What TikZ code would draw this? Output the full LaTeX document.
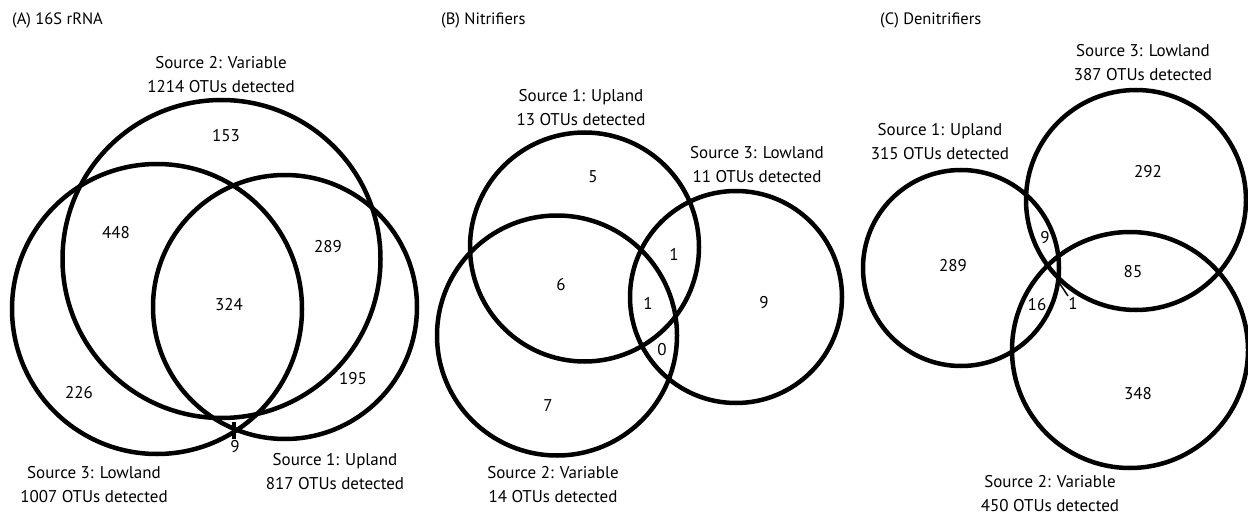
\documentclass[tikz,border=0pt]{standalone}
\usepackage{fontspec}
\setmainfont{PT Sans}
\begin{document}
\begin{tikzpicture}[x=1pt,y=-1pt,
  set/.style={draw=black,line width=4.5pt,circle,inner sep=0pt,outer sep=0pt,minimum size=#1},
  lbl/.style={font=\fontsize{17}{24}\selectfont,align=center,inner sep=0pt},
  num/.style={font=\fontsize{17}{24}\selectfont,inner sep=0pt},
  ttl/.style={font=\fontsize{16.5}{20}\selectfont,anchor=west,inner sep=0pt},
  lead/.style={draw=black,line width=#1}]
\useasboundingbox (0,0) rectangle (1248,516);

% ---------- (A) 16S rRNA ----------
\node[ttl] (tA) at (12,20) {(A) 16S rRNA};
\node[set=318pt] (vA) at (221.5,259) {};
\node[set=290pt] (lA) at (157,309) {};
\node[set=264pt] (uA) at (285,307) {};
\node[lbl] (vAl) at (221,75) {Source 2: Variable\\1214 OTUs detected};
\node[lbl] (lAl) at (94,485) {Source 3: Lowland\\1007 OTUs detected};
\node[lbl] (uAl) at (335,472) {Source 1: Upland\\817 OTUs detected};
\node[num] (a153) at (226,136) {153};
\node[num] (a448) at (116,233) {448};
\node[num] (a289) at (328,247) {289};
\node[num] (a324) at (229,305) {324};
\node[num] (a226) at (79,393) {226};
\node[num] (a195) at (353,379) {195};
\node[num] (a9) at (235,447) {9};
\coordinate (a9t) at (234,422);
\coordinate (a9b) at (234,439);
\draw[lead=3.5pt] (a9t) -- (a9b);

% ---------- (B) Nitrifiers ----------
\node[ttl] (tB) at (441,20) {(B) Nitrifiers};
\node[set=229pt] (uB) at (584.5,247) {};
\node[set=240pt] (vB) at (557,335.5) {};
\node[set=212pt] (lB) at (736,297) {};
\node[lbl] (uBl) at (581,108) {Source 1: Upland\\13 OTUs detected};
\node[lbl] (lBl) at (757,165) {Source 3: Lowland\\11 OTUs detected};
\node[lbl] (vBl) at (553,485) {Source 2: Variable\\14 OTUs detected};
\node[num] (b5) at (593,177) {5};
\node[num] (b6) at (561,285) {6};
\node[num] (b1a) at (674,254) {1};
\node[num] (b1b) at (648,303) {1};
\node[num] (b0) at (662,350) {0};
\node[num] (b9) at (764,303) {9};
\node[num] (b7) at (548,406) {7};

% ---------- (C) Denitrifiers ----------
\node[ttl] (tC) at (880,20) {(C) Denitrifiers};
\node[set=196pt] (uC) at (961,268) {};
\node[set=220pt] (lC) at (1136,200) {};
\node[set=236pt] (vC) at (1130,350) {};
\node[lbl] (lCl) at (1143,63) {Source 3: Lowland\\387 OTUs detected};
\node[lbl] (uCl) at (940,142) {Source 1: Upland\\315 OTUs detected};
\node[lbl] (vCl) at (1050,494) {Source 2: Variable\\450 OTUs detected};
\node[num] (c292) at (1148,172) {292};
\node[num] (c289) at (953,266) {289};
\node[num] (c9) at (1045,238) {9};
\node[num] (c85) at (1133,272) {85};
\node[num] (c16) at (1037,305) {16};
\node[num] (c1) at (1073,303) {1};
\coordinate (c1t) at (1058,281);
\coordinate (c1b) at (1068,296);
\draw[lead=1.5pt] (c1t) -- (c1b);
\node[num] (c348) at (1138,394) {348};
\end{tikzpicture}
\end{document}
